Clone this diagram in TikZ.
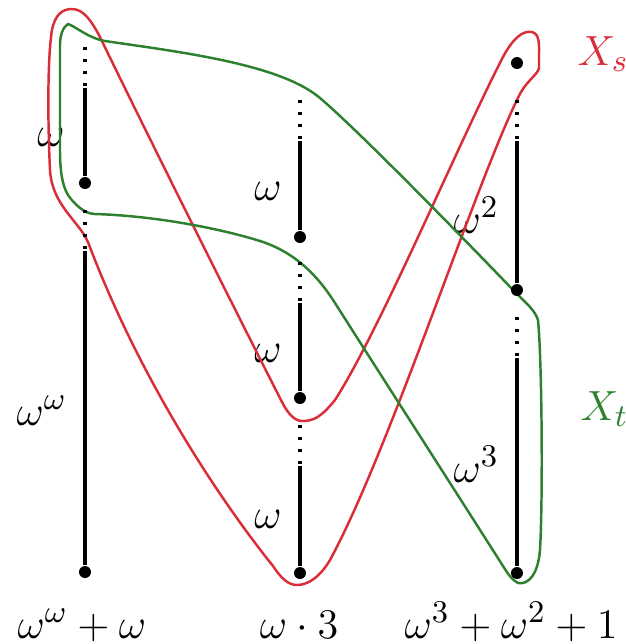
\documentclass[tikz,border=0pt]{standalone}
\usepackage{amsmath,amssymb}
\usepackage{tikz}
\usetikzlibrary{calc}
\definecolor{cSetS}{RGB}{218,45,55}
\definecolor{cSetT}{RGB}{45,128,45}

\begin{document}
\begin{tikzpicture}[
  x=0.01cm, y=-0.01cm,
  font=\fontsize{13}{15}\selectfont,
  pt/.style={circle, fill=black, inner sep=0pt, minimum size=0.12cm},
  stem/.style={line width=0.9pt, black},
  dots/.style={line width=0.9pt, dash pattern=on 0.9pt off 2.51pt},
  setS/.style={cSetS, line width=0.7pt},
  setT/.style={cSetT, line width=0.7pt},
  lab/.style={anchor=base, inner sep=0pt},
]
\useasboundingbox (0,0) rectangle (626,644);
% order-type labels (drawn first, the sets pass over them)
\node[lab] (wa1) at (51,146) {$\omega$};
\node[lab, anchor=base west] (wa2) at (16,425) {$\omega^\omega$};
\node[lab] (wb1) at (268,200) {$\omega$};
\node[lab] (wb2) at (268,362) {$\omega$};
\node[lab] (wb3) at (268,528) {$\omega$};
\node[lab, anchor=base west] (wd1) at (453,233) {$\omega^2$};
\node[lab, anchor=base west] (wd2) at (453,482) {$\omega^3$};
% the set X_s
\draw[setS] (72,9) .. controls (84,9) and (92,22) .. (100,37)
  .. controls (145,130) and (235,310) .. (282,402)
  .. controls (288,414) and (295,421) .. (302,421)
  .. controls (314,421) and (321,417) .. (335,400)
  .. controls (380,330) and (460,140) .. (503,57)
  .. controls (512,40) and (522,30) .. (532,32)
  .. controls (540,34) and (539,45) .. (539,55)
  -- (539,68)
  .. controls (538,74) and (528,80) .. (521,92)
  .. controls (480,170) and (390,450) .. (330,560)
  .. controls (320,577) and (308,585) .. (297,585)
  .. controls (288,585) and (281,578) .. (273,566)
  .. controls (220,500) and (140,380) .. (88,242)
  .. controls (78,220) and (52,205) .. (50,170)
  .. controls (48,130) and (47,60) .. (52,30)
  .. controls (55,15) and (62,9) .. cycle;
% the set X_t
\draw[setT] (68,24) .. controls (75,26) and (88,38) .. (105,41)
  .. controls (180,52) and (280,64) .. (320,98)
  .. controls (360,132) and (470,245) .. (515,292)
  .. controls (525,302) and (535,310) .. (538,320)
  .. controls (542,360) and (543,500) .. (540,550)
  .. controls (538,575) and (528,585) .. (518,583)
  .. controls (512,580) and (508,574) .. (503,566)
  .. controls (447,478) and (391,391) .. (335,303)
  .. controls (318,276) and (295,252) .. (260,241)
  .. controls (225,230) and (160,216) .. (95,214)
  .. controls (85,214) and (75,205) .. (68,195)
  .. controls (62,185) and (60,170) .. (60,150)
  -- (60,45)
  .. controls (60,35) and (63,27) .. cycle;
% columns: dotted start, then a solid stem down to the point
\node[pt] (d0) at (517,63) {};
\foreach \n/\x/\ys/\yd in {a1/85/47/183, a2/85/210/572,
    b1/300/100/237, b2/300/262/398, b3/300/425/573,
    d1/517/100/290, d2/517/317/573}{
  \node[pt] (\n) at (\x,\yd) {};
  \coordinate (\n-s) at (\x,\ys);
  \coordinate (\n-t) at (\x,\ys+39);
  \draw[dots] (\n-s) -- (\n-t);
  \draw[stem] (\x,\ys+41) -- (\n);
}
% names of the orders
\node[lab, anchor=base west] (o1) at (17,638) {$\omega^\omega+\omega$};
\node[lab] (o2) at (299,638) {$\omega\cdot 3$};
\node[lab, anchor=base west] (o3) at (404,638) {$\omega^3+\omega^2+1$};
\node[lab, anchor=base west, text=cSetS] (xs) at (577,65) {$X_s$};
\node[lab, anchor=base west, text=cSetT] (xt) at (580,420) {$X_t$};
\end{tikzpicture}
\end{document}
